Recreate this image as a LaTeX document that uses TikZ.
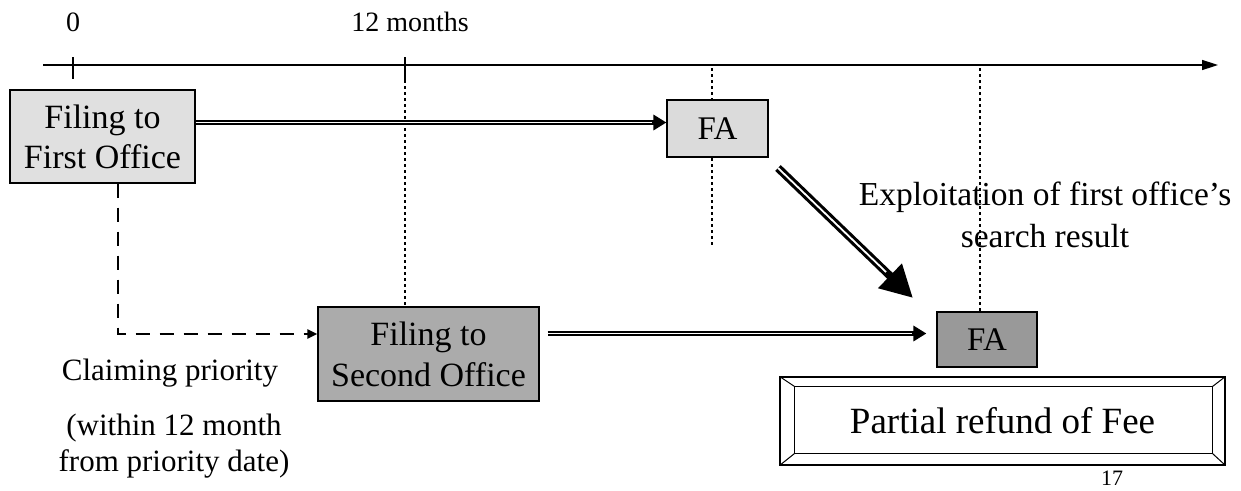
\documentclass[tikz,border=0pt]{standalone}
\usepackage{fontspec}
\setmainfont{Liberation Serif}
\usetikzlibrary{arrows.meta,calc}
\begin{document}
\begin{tikzpicture}[x=1pt,y=-1pt,
  box/.style={draw=black,line width=1.2pt,inner sep=0pt,align=center},
  lbl/.style={inner sep=0pt,align=center},
  guide/.style={line width=1.3pt,dash pattern=on 3pt off 3pt},
  dbl/.style={line width=5.5pt,-{Triangle[length=13pt,width=15pt]}},
  dblcore/.style={draw=white,line width=1.6pt},
  fs/.style 2 args={font=\fontsize{#1}{#2}\selectfont}
]
\useasboundingbox (0,0) rectangle (1241,490);
\clip (0,0) rectangle (1241,490);
\fill[white] (0,0) rectangle (1241,490);

% timeline
\coordinate (t0) at (43,65);
\coordinate (t1) at (1218,65);
\draw[line width=1.5pt,-{Triangle[length=16pt,width=10pt]}] (t0) -- (t1);
\node[lbl,fs={28}{32}] (zero) at (73,22) {0};
\node[lbl,fs={28}{32}] (twelve) at (410,22) {12 months};
\coordinate (k0a) at (73,57); \coordinate (k0b) at (73,79);
\draw[line width=1.5pt] (k0a) -- (k0b);
\coordinate (k1a) at (405,57); \coordinate (k1b) at (405,80);
\draw[line width=1.5pt] (k1a) -- (k1b);

% dotted guides
\coordinate (g1) at (712,68);
\coordinate (g1b) at (712,245);
\coordinate (g2) at (980,68);
\coordinate (g0) at (405,307);
\coordinate (g2b) at (980,312);
\draw[guide] (k1b) -- (g0);
\draw[guide] (g1) -- (g1b);
\draw[guide] (g2) -- (g2b);

% boxes
\node[box,fill=black!12,minimum width=185pt,minimum height=93pt,fs={34}{40}] (first) at (102.5,136.5) {Filing to\\First Office};
\node[box,fill=black!14,minimum width=101pt,minimum height=57pt,fs={33}{38}] (fa1) at (717.5,128.5) {FA};
\node[box,fill=black!33,minimum width=221pt,minimum height=94pt,fs={34}{41}] (second) at (428.5,354) {Filing to\\Second Office};
\node[box,fill=black!40,minimum width=100pt,minimum height=55pt,fs={33}{38}] (fa2) at (987,339.5) {FA};
\node[box,minimum width=445pt,minimum height=88pt,fs={37}{42}] (refund) at (1002.5,421) {Partial refund of Fee};

% bevel of refund frame
\coordinate (ria) at ([xshift=15pt,yshift=-10pt]refund.north west);
\coordinate (rib) at ([xshift=-13pt,yshift=-10pt]refund.north east);
\coordinate (ric) at ([xshift=-13pt,yshift=12pt]refund.south east);
\coordinate (rid) at ([xshift=15pt,yshift=12pt]refund.south west);
\draw[line width=1.2pt] (ria) -- (rib) -- (ric) -- (rid) -- cycle;
\draw[line width=1pt] (refund.north west) -- (ria) (refund.north east) -- (rib)
  (refund.south east) -- (ric) (refund.south west) -- (rid);

% horizontal double arrows
\coordinate (a1e) at ([yshift=6pt]fa1.west);
\coordinate (a1s) at (first.east |- a1e);
\draw[dbl] (a1s) -- (a1e);
\draw[dblcore] (a1s) -- ([xshift=-14pt]a1e);
\coordinate (a2e) at ([xshift=-10pt,yshift=6pt]fa2.west);
\coordinate (a2s) at ([xshift=8pt]second.east |- a2e);
\draw[dbl] (a2s) -- (a2e);
\draw[dblcore] (a2s) -- ([xshift=-14pt]a2e);

% diagonal thick arrow
\coordinate (ds) at (778,168);
\coordinate (de) at (913,298);
\draw[line width=8pt,-{Triangle[length=32pt,width=32pt]}] (ds) -- (de);
\draw[draw=white,line width=1.8pt] (ds) -- ($(ds)!0.8!(de)$);

% dashed priority arrow
\coordinate (p0) at ([xshift=15.5pt]first.south);
\coordinate (p2) at ([yshift=20pt]second.west);
\coordinate (p1) at (p0 |- p2);
\draw[line width=2.5pt,dash pattern=on 14pt off 10pt,-{Triangle[length=10pt,width=9pt]}] (p0) -- (p1) -- (p2);

% labels
\node[lbl,fs={33.5}{42}] (expl) at (1045,215) {Exploitation of first office's\\search result};
\node[lbl,fs={31}{36}] (claim) at (170,373) {Claiming priority};
\node[lbl,fs={31}{36}] (within) at (174,446) {(within 12 month\\from priority date)};
\node[lbl,fs={22}{26},anchor=north] (page) at (1112,471) {17};
\end{tikzpicture}
\end{document}
